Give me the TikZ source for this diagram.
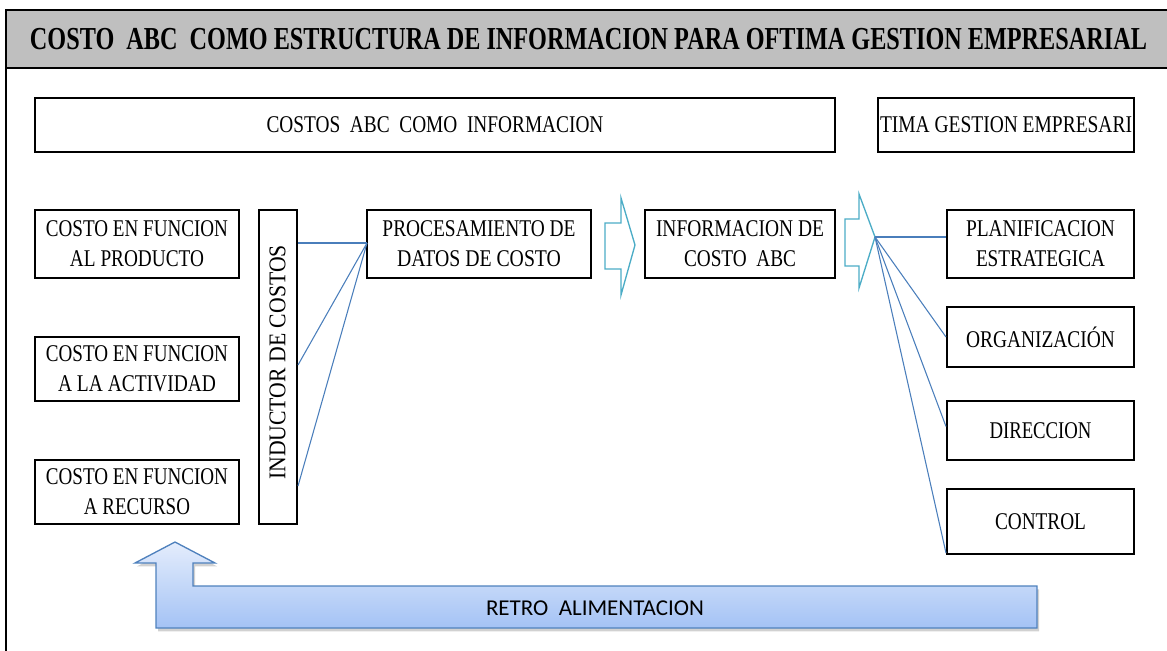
\documentclass[tikz,border=0pt]{standalone}
\usepackage{fontspec}
\setmainfont{Liberation Serif}
\newfontfamily\calib{Carlito}
\usetikzlibrary{calc,shadows}
\definecolor{bandgray}{HTML}{BFBFBF}
\definecolor{linkblue}{HTML}{4A7EBB}
\definecolor{arrcyan}{HTML}{4BACC6}
\definecolor{retroedge}{HTML}{4F81BD}
\definecolor{retrotop}{HTML}{E4EDFC}
\definecolor{retrobot}{HTML}{A4C2F5}
\newcommand\fitto[2]{\resizebox{#1}{\height}{#2}}
\tikzset{
  bx/.style={draw=black, line width=1.5pt, rectangle, inner sep=0pt, align=center,
    font=\fontsize{18}{22.5}\selectfont},
  link/.style={draw=linkblue, line width=0.8pt},
  hollow/.style={draw=arrcyan, line width=1pt, line join=miter},
}
\begin{document}
\begin{tikzpicture}[x=0.75pt, y=-0.75pt]
\useasboundingbox (0,0) rectangle (1167,650);
\clip (0,0) rectangle (1167,650);
% frame and title band
\draw[line width=1.5pt] (6,68) -- (6,652);
\draw[line width=1.5pt, fill=bandgray] (6,10) rectangle (1175,68);
\node (title) at (588.5,39) {\fontsize{24}{28}\selectfont\bfseries\fitto{837.75pt}{COSTO\ \ ABC\ \ COMO ESTRUCTURA DE INFORMACION PARA OFTIMA GESTION EMPRESARIAL}};

% top boxes
\node[bx, minimum width=600pt, minimum height=40.5pt] (costos) at (435,125)
  {\fitto{252.75pt}{COSTOS\ \ ABC\ \ COMO\ \ INFORMACION}};
\node[bx, minimum width=192pt, minimum height=40.5pt] (tima) at (1006,125)
  {\fitto{189pt}{TIMA GESTION EMPRESARI}};

% left boxes
\node[bx, minimum width=153pt, minimum height=51pt] (prod) at (137,244)
  {\fitto{136.5pt}{COSTO EN FUNCION}\\\fitto{100.5pt}{AL PRODUCTO}};
\node[bx, minimum width=153pt, minimum height=48pt] (act) at (137,369)
  {\fitto{136.5pt}{COSTO EN FUNCION}\\\fitto{118.5pt}{A LA ACTIVIDAD}};
\node[bx, minimum width=153pt, minimum height=48pt] (rec) at (137,492)
  {\fitto{136.5pt}{COSTO EN FUNCION}\\\fitto{79.5pt}{A RECURSO}};

% inductor (box, with its text turned)
\node[bx, minimum width=28.5pt, minimum height=235.5pt] (ind) at (278,367) {};
\node[rotate=90, inner sep=0pt, font=\fontsize{18}{22.5}\selectfont] (indtxt) at (277.5,362.5)
  {\fitto{176pt}{INDUCTOR DE COSTOS}};

% processing and information
\node[bx, minimum width=168pt, minimum height=51pt] (proc) at (479,244)
  {\fitto{144.75pt}{PROCESAMIENTO DE}\\\fitto{123pt}{DATOS DE COSTO}};
\node[bx, minimum width=142.5pt, minimum height=51pt] (info) at (740,244)
  {\fitto{126pt}{INFORMACION DE}\\\fitto{84pt}{COSTO\ \ ABC}};

% right boxes
\node[bx, minimum width=140.25pt, minimum height=51pt] (plan) at (1040.5,244)
  {\fitto{111.75pt}{PLANIFICACION}\\\fitto{96.75pt}{ESTRATEGICA}};
\node[bx, minimum width=140.25pt, minimum height=45pt] (org) at (1040.5,337)
  {\fitto{111.75pt}{ORGANIZACIÓN}};
\node[bx, minimum width=140.25pt, minimum height=44.25pt] (dir) at (1040.5,430.5)
  {\fitto{76.5pt}{DIRECCION}};
\node[bx, minimum width=140.25pt, minimum height=48.75pt] (ctrl) at (1040.5,521.5)
  {\fitto{68.25pt}{CONTROL}};

% hollow arrows
\draw[hollow] (605,223) -- (621,223) -- (621,198) -- (635,245) -- (621,295) -- (621,269) -- (605,269) -- cycle;
\draw[hollow] (845,219) -- (859,219) -- (859,194) -- (875,237) -- (859,288) -- (859,266) -- (845,266) -- cycle;
\coordinate (t2) at (875,237);

% connectors inductor -> processing
\coordinate (pin) at (367,243);
\draw[link] (ind.east |- pin) -- (pin);
\draw[link] ($(ind.east)+(0,-2)$) -- (pin);
\draw[link] ($(ind.south east)+(0,-39)$) -- (pin);

% fan to right boxes
\draw[link] (t2) -- (t2 -| plan.west);
\draw[link] (t2) -- (org.west);
\draw[link] (t2) -- ($(dir.west)+(0,-4)$);
\draw[link] (t2) -- ($(ctrl.south west)+(0,-2)$);

% feedback arrow
\path[draw=retroedge, line width=1pt, top color=retrotop, bottom color=retrobot,
  drop shadow={shadow xshift=1.5pt, shadow yshift=-2.5pt, opacity=0.3, fill=black!60}]
  (156,628) -- (156,563) -- (135,563) -- (175,542) -- (215,563) -- (193,563) -- (193,586)
  -- (1037,586) -- (1037,628) -- cycle;
\node (retro) at (595,608) {\calib\fontsize{17}{20}\selectfont\fitto{163.5pt}{RETRO\ \ ALIMENTACION}};
\end{tikzpicture}
\end{document}
